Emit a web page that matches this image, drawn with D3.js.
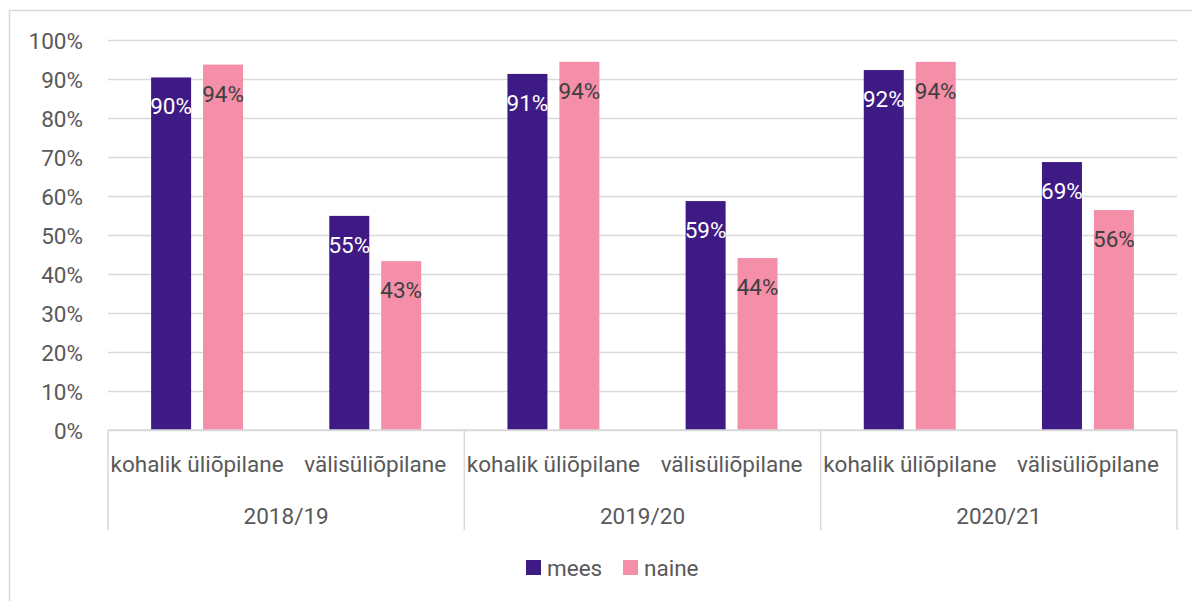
<!DOCTYPE html>
<html>
<head>
<meta charset="utf-8">
<script src="https://cdn.jsdelivr.net/npm/d3@7"></script>
<style>
  body { margin: 0; background: #fff; }
  svg text { font-family: Roboto, "Noto Sans", sans-serif; }
</style>
</head>
<body>
<div class="chart"></div>
<script>
// data
const years = ["2018/19", "2019/20", "2020/21"];
const groups = ["kohalik üliõpilane", "välisüliõpilane"];
const seriesNames = ["mees", "naine"];
const mees = [90.4, 54.9, 91.3, 58.7, 92.3, 68.7];
const naine = [93.7, 43.3, 94.4, 44.1, 94.4, 56.4];
const yTicks = [0, 10, 20, 30, 40, 50, 60, 70, 80, 90, 100];

const w = 1192;
const h = 601;
const fontSize = "22.5px";
const colors = { mees: "#3e1a84", naine: "#f48ea9" };

const cats = [];
years.forEach(function (y) {
  groups.forEach(function (g) {
    cats.push({ key: y + "|" + g, year: y, group: g });
  });
});
const rows = cats.map(function (c, i) {
  return { key: c.key, group: c.group, mees: mees[i], naine: naine[i] };
});

const svg = d3
  .select(".chart")
  .append("svg")
  .attr("width", w)
  .attr("height", h);

// outer frame
svg
  .append("rect")
  .attr("x", 9.5)
  .attr("y", 10.5)
  .attr("width", 1200)
  .attr("height", 700)
  .attr("fill", "none")
  .attr("stroke", "#d9d9d9")
  .attr("stroke-width", 1.5);

const x0 = d3
  .scaleBand()
  .domain(cats.map((c) => c.key))
  .range([108, 1177])
  .padding(0);

const x1 = d3
  .scaleBand()
  .domain(seriesNames)
  .range([0, x0.bandwidth()])
  .paddingInner(0.23)
  .paddingOuter(0.83);

const yScale = d3.scaleLinear().domain([0, 100]).range([430, 40]);

// gridlines + y labels
const yAxis = d3
  .axisLeft(yScale)
  .tickValues(yTicks)
  .tickSize(-(1177 - 108))
  .tickPadding(25)
  .tickFormat((d) => d + "%");

const gy = svg
  .append("g")
  .attr("transform", "translate(108,0)")
  .call(yAxis);
gy.select(".domain").remove();
gy.selectAll(".tick line").attr("stroke", "#d9d9d9").attr("stroke-width", 1.5);
gy.selectAll(".tick text")
  .attr("fill", "#595959")
  .attr("dy", null)
  .attr("dominant-baseline", "central")
  .style("font-size", fontSize);

// bars
const catG = svg
  .selectAll(".cat")
  .data(rows)
  .enter()
  .append("g")
  .attr("transform", (d) => "translate(" + x0(d.key) + ",0)");

catG
  .selectAll("rect")
  .data((d) => seriesNames.map((s) => ({ s: s, v: d[s] })))
  .enter()
  .append("rect")
  .attr("x", (d) => x1(d.s))
  .attr("width", x1.bandwidth())
  .attr("y", (d) => yScale(d.v))
  .attr("height", (d) => yScale(0) - yScale(d.v))
  .attr("fill", (d) => colors[d.s]);

catG
  .selectAll("text")
  .data((d) => seriesNames.map((s) => ({ s: s, v: d[s] })))
  .enter()
  .append("text")
  .attr("x", (d) => x1(d.s) + x1.bandwidth() / 2)
  .attr("y", (d) => yScale(d.v) + 29)
  .attr("text-anchor", "middle")
  .attr("dominant-baseline", "central")
  .attr("fill", (d) => (d.s === "mees" ? "#ffffff" : "#404040"))
  .style("font-size", fontSize)
  .text((d) => Math.round(d.v) + "%");

// category axis
const axisG = svg.append("g").attr("id", "x-axis");
axisG
  .append("line")
  .attr("x1", 108)
  .attr("x2", 1177)
  .attr("y1", 430)
  .attr("y2", 430)
  .attr("stroke", "#d9d9d9")
  .attr("stroke-width", 1.5);

const yearBand = d3.scaleBand().domain(years).range([108, 1177]);

axisG
  .selectAll(".sep")
  .data(years.concat(["end"]))
  .enter()
  .append("line")
  .attr("x1", (d, i) => 108 + i * yearBand.bandwidth())
  .attr("x2", (d, i) => 108 + i * yearBand.bandwidth())
  .attr("y1", 430)
  .attr("y2", 530)
  .attr("stroke", "#d9d9d9")
  .attr("stroke-width", 1.5);

axisG
  .selectAll(".catlabel")
  .data(cats)
  .enter()
  .append("text")
  .attr("x", (d) => x0(d.key) + x0.bandwidth() / 2)
  .attr("y", 464)
  .attr("text-anchor", "middle")
  .attr("dominant-baseline", "central")
  .attr("fill", "#595959")
  .style("font-size", fontSize)
  .text((d) => d.group);

axisG
  .selectAll(".yearlabel")
  .data(years)
  .enter()
  .append("text")
  .attr("x", (d) => yearBand(d) + yearBand.bandwidth() / 2)
  .attr("y", 516)
  .attr("text-anchor", "middle")
  .attr("dominant-baseline", "central")
  .attr("fill", "#595959")
  .style("font-size", fontSize)
  .text((d) => d);

// legend
const legend = svg.append("g").attr("id", "legend");
const legendX = [526, 623];
seriesNames.forEach(function (s, i) {
  legend
    .append("rect")
    .attr("x", legendX[i])
    .attr("y", 560)
    .attr("width", 15)
    .attr("height", 15)
    .attr("fill", colors[s]);
  legend
    .append("text")
    .attr("x", legendX[i] + 21)
    .attr("y", 568)
    .attr("dominant-baseline", "central")
    .attr("fill", "#595959")
    .style("font-size", fontSize)
    .text(s);
});
</script>
</body>
</html>
